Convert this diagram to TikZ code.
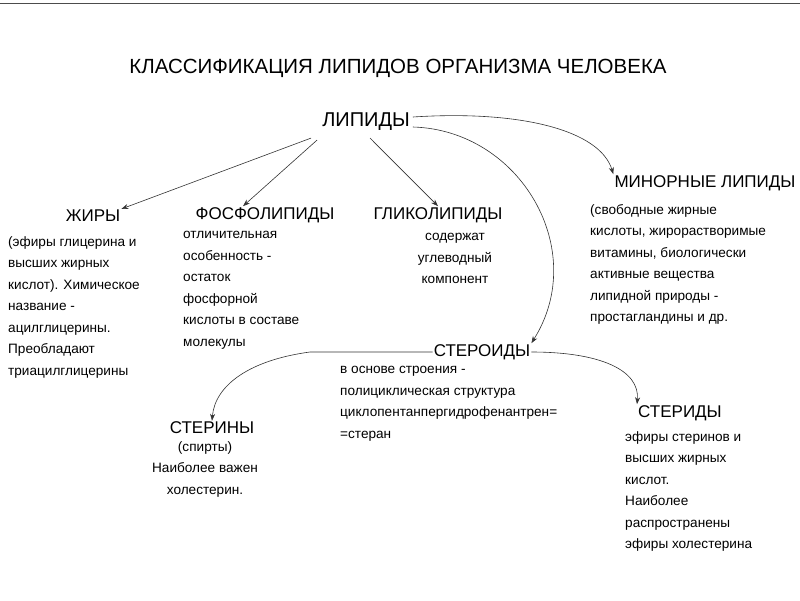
\documentclass[tikz,border=0pt]{standalone}
\usepackage{fontspec}
\setmainfont{Liberation Sans}
\usetikzlibrary{arrows.meta}
\begin{document}
\begin{tikzpicture}[x=1pt,y=-1pt,>={Stealth[length=7pt,width=5pt]}]
        \tikzstyle{head}=[font=\fontsize{17}{19}\selectfont,inner sep=1pt]
        \tikzstyle{body}=[font=\fontsize{13.6}{21.5}\selectfont,inner sep=0pt]
        \tikzstyle{link}=[draw,->,semithick,black!80]
       \useasboundingbox (0,0) rectangle (800,600);
       \draw[thick,black!70] (0,3) -- (800,3);
       \node [head,font=\fontsize{20.5}{22}\selectfont] (title) at (398,68) {КЛАССИФИКАЦИЯ\ ЛИПИДОВ\ ОРГАНИЗМА\ ЧЕЛОВЕКА};
       \node [head,font=\fontsize{20}{22}\selectfont] (lip) at (366,122) {ЛИПИДЫ};
       \node [head] (fat) at (93,216) {ЖИРЫ};
       \node [head] (phos) at (265,215) {ФОСФОЛИПИДЫ};
       \node [head] (glyc) at (438,215) {ГЛИКОЛИПИДЫ};
       \node [head] (minor) at (705,183) {МИНОРНЫЕ\ ЛИПИДЫ};
       \node [head] (ster) at (482,352) {СТЕРОИДЫ};
       \node [head] (sterin) at (212,428) {СТЕРИНЫ};
       \node [head] (sterid) at (680,413) {СТЕРИДЫ};
       \node [body,align=left,anchor=north west] (fatb) at (8,236) {(эфиры глицерина и\\высших жирных\\кислот). Химическое\\название -\\ацилглицерины.\\Преобладают\\триацилглицерины};
       \node [body,align=left,anchor=north west] (phosb) at (183,231) {отличительная\\особенность -\\остаток\\фосфорной\\кислоты в составе\\молекулы};
       \node [body,align=center,anchor=north] (glycb) at (455,233) {содержат\\углеводный\\компонент};
       \node [body,align=left,anchor=north west] (minorb) at (590,204) {(свободные жирные\\кислоты, жирорастворимые\\витамины, биологически\\активные вещества\\липидной природы -\\простагландины и др.};
       \node [body,align=left,anchor=north west] (sterb) at (340,366) {в основе строения -\\полициклическая структура\\циклопентанпергидрофенантрен=\\=стеран};
       \node [body,align=center,anchor=north] (sterinb) at (205,441) {(спирты)\\Наиболее важен\\холестерин.};
       \node [body,align=left,anchor=north west] (steridb) at (625,431) {эфиры стеринов и\\высших жирных\\кислот.\\Наиболее\\распространены\\эфиры холестерина};
       \path[link] (lip.south west) ++(-10,6) -- (fat.north east);
       \path[link] (lip.south west) ++(-4,8) -- ([xshift=-22pt]phos.north);
       \path[link] (lip.south) ++(4,6) -- (glyc.north);
       \path[link] (lip.east) ++(2,-5) .. controls (520,110) and (600,130) .. (minor.north west);
       \path[link] (lip.east) ++(2,5) .. controls (520,130) and (590,250) .. (ster.north east);
       \path[link] (ster.west) -- (310,352) .. controls (250,360) and (215,385) .. (sterin.north);
       \path[link] (ster.east) .. controls (600,352) and (640,370) .. (sterid.north west);
      \end{tikzpicture}
\end{document}
